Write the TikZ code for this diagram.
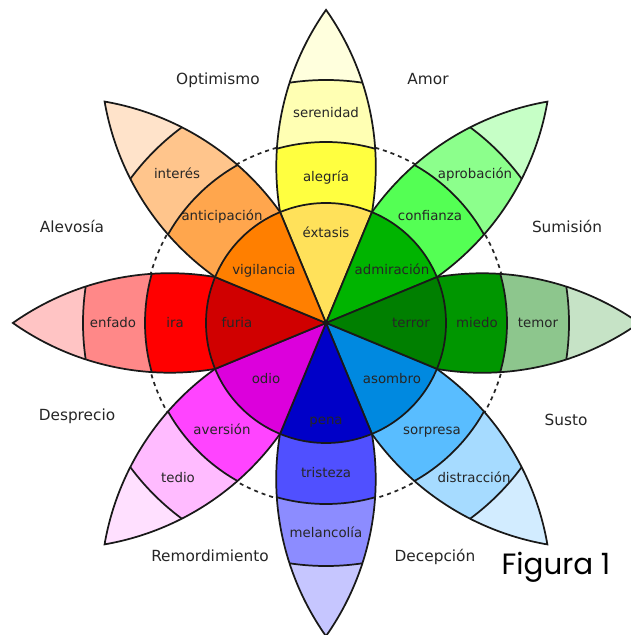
\documentclass[tikz,border=0pt]{standalone}
\usepackage{fontspec}
\setmainfont{DejaVu Sans}
\newfontfamily\handfont{Poppins}

\definecolor{joyA}{HTML}{FFE15A}
\definecolor{joyB}{HTML}{FFFF40}
\definecolor{joyC}{HTML}{FFFFB3}
\definecolor{joyD}{HTML}{FFFFDD}
\definecolor{trustA}{HTML}{00B400}
\definecolor{trustB}{HTML}{54FF54}
\definecolor{trustC}{HTML}{8CFF8C}
\definecolor{trustD}{HTML}{C6FFC6}
\definecolor{fearA}{HTML}{007F00}
\definecolor{fearB}{HTML}{009600}
\definecolor{fearC}{HTML}{8DC68D}
\definecolor{fearD}{HTML}{C6E3C6}
\definecolor{surpA}{HTML}{0089E0}
\definecolor{surpB}{HTML}{59BDFF}
\definecolor{surpC}{HTML}{A6DBFF}
\definecolor{surpD}{HTML}{D2ECFF}
\definecolor{sadA}{HTML}{0000C8}
\definecolor{sadB}{HTML}{5050FF}
\definecolor{sadC}{HTML}{8C8CFF}
\definecolor{sadD}{HTML}{C6C6FF}
\definecolor{disgA}{HTML}{DC00DC}
\definecolor{disgB}{HTML}{FF44FF}
\definecolor{disgC}{HTML}{FFBBFF}
\definecolor{disgD}{HTML}{FFE0FF}
\definecolor{angA}{HTML}{D00000}
\definecolor{angB}{HTML}{FF0000}
\definecolor{angC}{HTML}{FF8888}
\definecolor{angD}{HTML}{FFC4C4}
\definecolor{antA}{HTML}{FF7F00}
\definecolor{antB}{HTML}{FFA64D}
\definecolor{antC}{HTML}{FFC58C}
\definecolor{antD}{HTML}{FFE3CA}

% one petal: angle, inner, middle, outer, tip colour
\newcommand{\petal}[5]{%
  \begin{scope}[rotate=#1]
    \begin{scope}
      \clip (0,0) -- (110.9,45.9) arc[start angle=99.6,end angle=54.8,radius=272.1]
        arc[start angle=-54.8,end angle=-99.6,radius=272.1] -- cycle;
      \fill[#5] (0,0) circle (330);
      \fill[#4] (0,0) circle (243);
      \fill[#3] (0,0) circle (181);
      \fill[#2] (0,0) circle (120);
      \draw[rim] (0,0) circle (243) (0,0) circle (181) (0,0) circle (120);
    \end{scope}
    \draw[rim] (0,0) -- (110.9,45.9) arc[start angle=99.6,end angle=54.8,radius=272.1]
      arc[start angle=-54.8,end angle=-99.6,radius=272.1] -- cycle;
  \end{scope}}

\begin{document}
\begin{tikzpicture}[x=0.75pt,y=0.75pt]
    \tikzstyle{rim}=[draw=black!90,line width=1.3pt]
    \tikzstyle{emo}=[inner sep=0pt,text=black!85,font=\fontsize{10}{12}\selectfont,text height=1.5ex,text depth=0.3ex]
    \tikzstyle{dyad}=[inner sep=0pt,text=black!85,font=\fontsize{11.5}{14}\selectfont,text height=1.5ex,text depth=0.3ex]
      \clip (-326,-312) rectangle (305,323);
      \fill[white] (-326,-312) rectangle (305,323);

      \draw[black!85,line width=1.3pt,dash pattern=on 3pt off 3pt] (0,0) circle (182);

      \petal{90}{joyA}{joyB}{joyC}{joyD}
      \petal{45}{trustA}{trustB}{trustC}{trustD}
      \petal{0}{fearA}{fearB}{fearC}{fearD}
      \petal{-45}{surpA}{surpB}{surpC}{surpD}
      \petal{-90}{sadA}{sadB}{sadC}{sadD}
      \petal{-135}{disgA}{disgB}{disgC}{disgD}
      \petal{180}{angA}{angB}{angC}{angD}
      \petal{135}{antA}{antB}{antC}{antD}

      \node (extasis) at (0, 90) [emo] {éxtasis};
      \node (alegria) at (0, 146) [emo] {alegría};
      \node (serenidad) at (0, 210) [emo] {serenidad};
      \node (admiracion) at (66, 53) [emo] {admiración};
      \node (confianza) at (104, 107) [emo] {confianza};
      \node (aprobacion) at (149, 149) [emo] {aprobación};
      \node (terror) at (85, 0) [emo] {terror};
      \node (miedo) at (151, 0) [emo] {miedo};
      \node (temor) at (212, 0) [emo] {temor};
      \node (asombro) at (66, -56) [emo] {asombro};
      \node (sorpresa) at (106, -107) [emo] {sorpresa};
      \node (distraccion) at (148, -155) [emo] {distracción};
      \node (pena) at (0, -97) [emo] {pena};
      \node (tristeza) at (0, -150) [emo] {tristeza};
      \node (melancolia) at (0, -210) [emo] {melancolía};
      \node (odio) at (-60, -56) [emo] {odio};
      \node (aversion) at (-104, -107) [emo] {aversión};
      \node (tedio) at (-148, -155) [emo] {tedio};
      \node (furia) at (-89, 0) [emo] {furia};
      \node (ira) at (-151, 0) [emo] {ira};
      \node (enfado) at (-213, 0) [emo] {enfado};
      \node (vigilancia) at (-62, 53) [emo] {vigilancia};
      \node (anticipacion) at (-104, 107) [emo] {anticipación};
      \node (interes) at (-149, 149) [emo] {interés};

      \node (optimismo) at (-108, 243) [dyad] {Optimismo};
      \node (amor) at (102, 243) [dyad] {Amor};
      \node (alevosia) at (-254, 95) [dyad] {Alevosía};
      \node (sumision) at (241, 95) [dyad] {Sumisión};
      \node (desprecio) at (-249, -93) [dyad] {Desprecio};
      \node (susto) at (240, -98) [dyad] {Susto};
      \node (remordimiento) at (-116, -234) [dyad] {Remordimiento};
      \node (decepcion) at (109, -234) [dyad] {Decepción};
      \node (figura) at (230, -244) [inner sep=0pt,font=\handfont\fontsize{22}{26}\selectfont] {Figura 1};
\end{tikzpicture}
\end{document}
